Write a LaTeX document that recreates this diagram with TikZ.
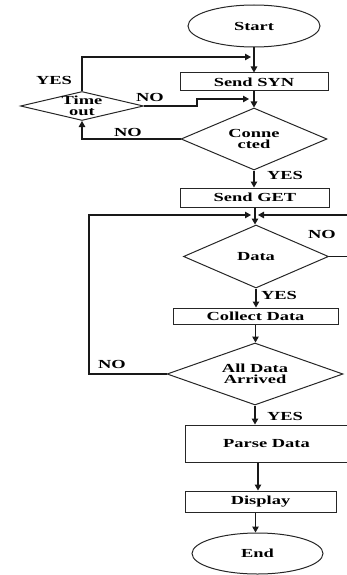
\documentclass[tikz,border=0pt]{standalone}
\usepackage{fontspec}
\setmainfont[FakeStretch=1.5]{Liberation Serif}
\usetikzlibrary{shapes.geometric,arrows.meta}
\begin{document}
\begin{tikzpicture}[x=1pt,y=-1pt,
  every node/.style={font=\fontsize{12.3}{11}\selectfont\bfseries},
  line/.style={draw=black!90, line width=1.1pt},
  arr/.style={line, -{Triangle[length=6pt,width=6.5pt]}},
  shapeline/.style={draw=black!85, line width=1pt, inner sep=0pt},
  proc/.style={shapeline, rectangle},
  dec/.style={shapeline, diamond, aspect=1},
  term/.style={shapeline, ellipse},
  lbl/.style={inner sep=0pt}]
\useasboundingbox (0,0) rectangle (346,575);

% blocks
\node[term, minimum width=132pt, minimum height=42pt] (start) at (254,26) {Start};
\node[proc, minimum width=148pt, minimum height=18pt] (syn) at (254,82) {Send SYN};
\node[dec, minimum width=123pt, minimum height=29pt,
      label={[align=center]center:Time\\out}] (tout) at (82,106) {};
\node[dec, minimum width=146pt, minimum height=62pt,
      label={[align=center]center:Conne\\cted}] (conn) at (254,139) {};
\node[proc, minimum width=149pt, minimum height=19pt] (get) at (255,197.5) {Send GET};
\node[dec, minimum width=145pt, minimum height=63pt,
      label={center:Data}] (data) at (256,256.5) {};
\node[proc, minimum width=165pt, minimum height=16pt] (coll) at (255.5,316) {Collect Data};
\node[dec, minimum width=176pt, minimum height=62pt,
      label={[align=center]center:All Data\\Arrived}] (all) at (255,374) {};
\node[proc, minimum width=163pt, minimum height=37pt] (parse) at (266.5,443.5) {Parse Data};
\node[proc, minimum width=151pt, minimum height=21pt] (disp) at (260.5,501.5) {Display};
\node[term, minimum width=131pt, minimum height=41pt] (end) at (257.5,553.5) {End};

% junction points on the main line
\coordinate (j1) at (254,57);
\coordinate (j2) at (254,99);
\coordinate (j3) at (255,215);
\coordinate (k1) at (197,106);
\coordinate (k2) at (349,256.5);

% main flow
\draw[arr] (start.south) -- (start.south |- syn.north);
\draw[arr] (syn.south) -- (syn.south |- conn.north);
\draw[arr] (conn.south) -- (conn.south |- get.north);
\draw[arr] (get.south) -- (get.south |- data.north);
\draw[arr] (data.south) -- (data.south |- coll.north);
\draw[arr] (coll.south) -- (coll.south |- all.north);
\draw[arr] (all.south) -- (all.south |- parse.north);
\draw[arr] ([xshift=-8.5pt]parse.south) -- ([xshift=-8.5pt]parse.south |- disp.north);
\draw[arr] ([xshift=-5pt]disp.south) -- ([xshift=-5pt]disp.south |- end.north);

% retries and loops
\draw[arr] (tout.north) |- ([xshift=-3pt]j1);
\draw[arr] (tout.east) -- (k1) |- ([xshift=-5pt]j2);
\draw[arr] (conn.west) -| (tout.south);
\draw[arr] (all.west) -- (89,374) |- ([xshift=-4pt]j3);
\draw[arr] (data.east) -- (k2) |- ([xshift=3pt]j3);

% branch labels
\node[lbl] (l1) at (54,80) {YES};
\node[lbl] (l2) at (150,97) {NO};
\node[lbl] (l3) at (128,132.5) {NO};
\node[lbl] (l4) at (285,175) {YES};
\node[lbl] (l5) at (322,234) {NO};
\node[lbl] (l6) at (279,295) {YES};
\node[lbl] (l7) at (112,364) {NO};
\node[lbl] (l8) at (285,416) {YES};
\end{tikzpicture}
\end{document}
